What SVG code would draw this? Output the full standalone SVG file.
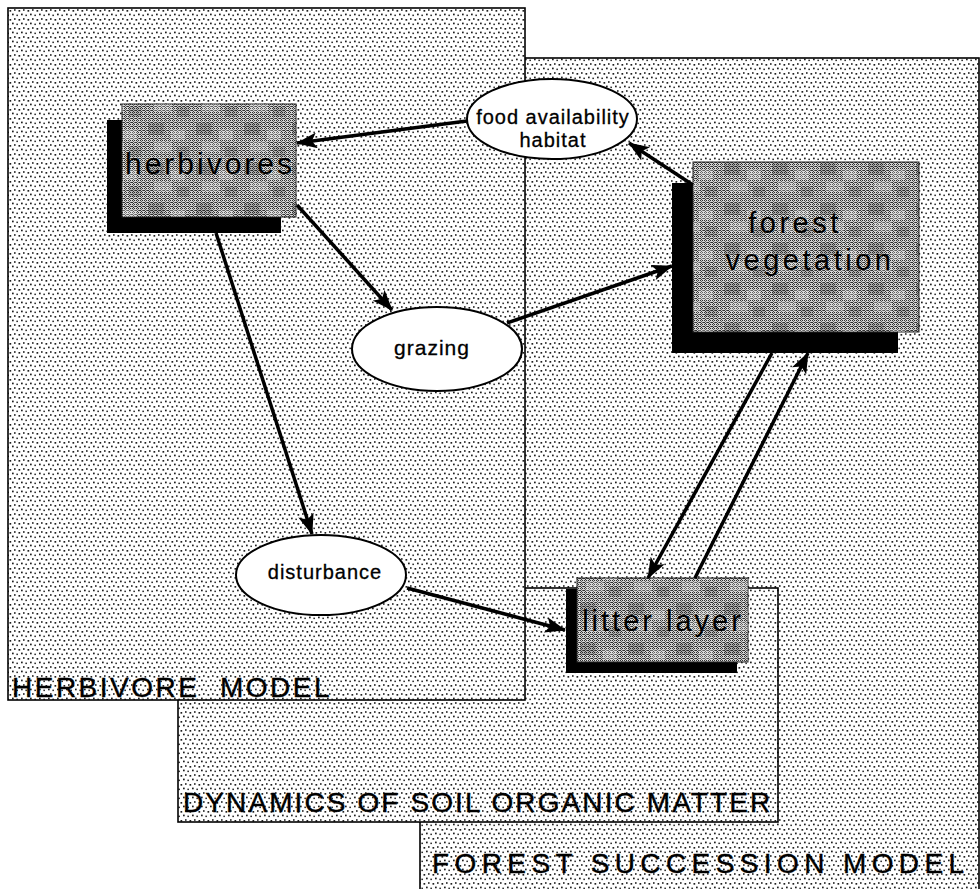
<svg xmlns="http://www.w3.org/2000/svg" width="980" height="889" viewBox="0 0 980 889">
  <defs>
    <!-- light halftone stipple used for the model regions -->
    <pattern id="stipple" width="9" height="9" patternUnits="userSpaceOnUse">
      <rect width="9" height="9" fill="#ffffff"/>
      <rect x="0.5" y="1" width="1.7" height="1.7" fill="#1e1e1e"/>
      <rect x="5" y="0.2" width="1.6" height="1.6" fill="#1e1e1e"/>
      <rect x="3" y="4.6" width="1.7" height="1.7" fill="#1e1e1e"/>
      <rect x="7.4" y="5.6" width="1.5" height="1.5" fill="#1e1e1e"/>
    </pattern>
    <!-- dithered grey used inside the compartment boxes -->
    <pattern id="dither" width="4" height="4" patternUnits="userSpaceOnUse">
      <rect width="4" height="4" fill="#d4d4d4"/>
      <rect x="0" y="0" width="1" height="1" fill="#303030"/>
      <rect x="2" y="0" width="1" height="1" fill="#303030"/>
      <rect x="1" y="1" width="1" height="1" fill="#606060"/>
      <rect x="3" y="2" width="1" height="1" fill="#303030"/>
      <rect x="0" y="2" width="1" height="1" fill="#303030"/>
      <rect x="1" y="3" width="1" height="1" fill="#303030"/>
      <rect x="2" y="2" width="1" height="1" fill="#606060"/>
    </pattern>
    <!-- coarse mottling laid over the dither -->
    <pattern id="mottle" width="48" height="40" patternUnits="userSpaceOnUse">
      <rect x="4" y="3" width="16" height="12" fill="#000" opacity="0.18"/>
      <rect x="27" y="10" width="14" height="10" fill="#fff" opacity="0.25"/>
      <rect x="10" y="22" width="18" height="10" fill="#fff" opacity="0.22"/>
      <rect x="33" y="27" width="12" height="10" fill="#000" opacity="0.15"/>
    </pattern>
    <marker id="head" markerUnits="userSpaceOnUse" markerWidth="22" markerHeight="16" refX="20" refY="8" orient="auto">
      <path d="M0,0 L21,8 L0,16 L5,8 z" fill="#000"/>
    </marker>
  </defs>
  <style>
    .region { fill: url(#stipple); stroke: #000; stroke-width: 1.6; }
    .regionlabel { font-family: "Liberation Sans", Arial, sans-serif; font-size: 28px; fill: #000; stroke: #000; stroke-width: 0.4; }
    .box { fill: url(#dither); stroke: #222; stroke-width: 1; }
    .mottle { fill: url(#mottle); }
    .shadow { fill: #000; }
    .boxlabel { font-family: "Liberation Sans", Arial, sans-serif; font-size: 29px; letter-spacing: 2.5px; fill: #000; text-anchor: middle; }
    .oval { fill: #fff; stroke: #000; stroke-width: 2; }
    .ovallabel { font-family: "Liberation Sans", Arial, sans-serif; font-size: 20px; letter-spacing: 1px; fill: #000; text-anchor: middle; stroke: #000; stroke-width: 0.3; }
    .link { fill: none; stroke: #000; stroke-width: 3.5; marker-end: url(#head); }
  </style>

  <rect width="980" height="889" fill="#fff"/>

  <!-- model regions, back to front -->
  <g id="forest-succession-model">
    <rect class="region" x="420" y="58" width="559" height="834"/>
    <text class="regionlabel" x="432" y="873" style="letter-spacing:5.4px">FOREST SUCCESSION MODEL</text>
  </g>
  <g id="soil-organic-matter">
    <rect class="region" x="178" y="588" width="600" height="234"/>
    <text class="regionlabel" x="183" y="812" style="letter-spacing:2.1px">DYNAMICS OF SOIL ORGANIC MATTER</text>
  </g>
  <g id="herbivore-model">
    <rect class="region" x="8" y="8" width="517" height="692"/>
    <text class="regionlabel" x="12" y="697" style="letter-spacing:2.5px" xml:space="preserve">HERBIVORE  MODEL</text>
  </g>

  <!-- compartments -->
  <g id="herbivores">
    <rect class="shadow" x="107" y="120" width="174" height="113"/>
    <rect class="box" x="122" y="104" width="174" height="113"/>
    <rect class="mottle" x="122" y="104" width="174" height="113"/>
    <text class="boxlabel" x="210" y="174" style="font-size:30px;letter-spacing:3px">herbivores</text>
  </g>
  <g id="forest-vegetation">
    <rect class="shadow" x="672" y="183" width="226" height="170"/>
    <rect class="box" x="693" y="162" width="226" height="170"/>
    <rect class="mottle" x="693" y="162" width="226" height="170"/>
    <text class="boxlabel" x="795" y="233" style="font-size:29px;letter-spacing:3.5px">forest</text>
    <text class="boxlabel" x="810" y="270" style="font-size:29px;letter-spacing:3.5px">vegetation</text>
  </g>
  <g id="litter-layer">
    <rect class="shadow" x="566" y="589" width="171" height="84"/>
    <rect class="box" x="577" y="578" width="171" height="84"/>
    <rect class="mottle" x="577" y="578" width="171" height="84"/>
    <text class="boxlabel" x="663" y="631" style="letter-spacing:3px">litter layer</text>
  </g>

  <!-- processes -->
  <g id="food-availability">
    <ellipse class="oval" cx="552" cy="119" rx="85" ry="40"/>
    <text class="ovallabel" x="553" y="124">food availability</text>
    <text class="ovallabel" x="553" y="147">habitat</text>
  </g>
  <g id="grazing">
    <ellipse class="oval" cx="437" cy="349" rx="85" ry="42"/>
    <text class="ovallabel" x="432" y="355" style="font-size:21px">grazing</text>
  </g>
  <g id="disturbance">
    <ellipse class="oval" cx="321" cy="575" rx="85" ry="40"/>
    <text class="ovallabel" x="325" y="579">disturbance</text>
  </g>

  <!-- connectors -->
  <g id="connectors">
    <line class="link" x1="467" y1="121" x2="297" y2="143"/>
    <line class="link" x1="693" y1="185" x2="629" y2="143"/>
    <line class="link" x1="297" y1="205" x2="392" y2="310"/>
    <line class="link" x1="507" y1="323" x2="672" y2="266"/>
    <line class="link" x1="216" y1="233" x2="312" y2="534"/>
    <line class="link" x1="407" y1="588" x2="565" y2="630"/>
    <line class="link" x1="772" y1="353" x2="648" y2="578"/>
    <line class="link" x1="695" y1="578" x2="808" y2="353"/>
  </g>
</svg>
